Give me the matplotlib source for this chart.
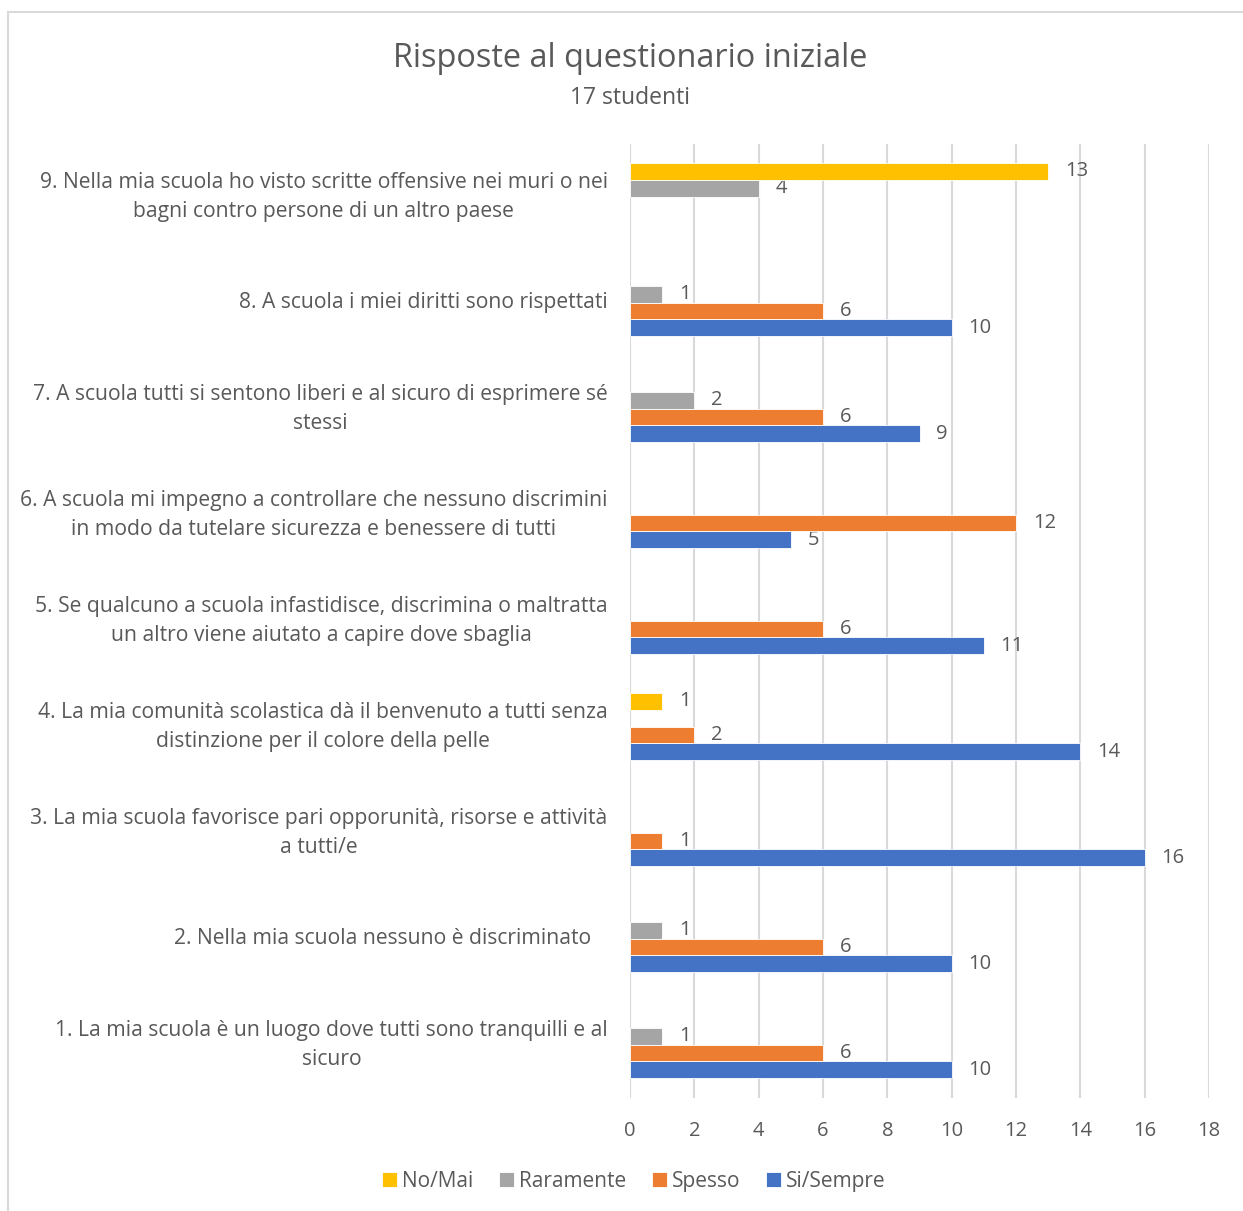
import matplotlib.pyplot as plt
import numpy as np

plt.rcParams["font.family"] = ["Open Sans", "DejaVu Sans"]

TEXT = "#595959"

questions = [
    "1. La mia scuola è un luogo dove tutti sono tranquilli e al\nsicuro",
    "2. Nella mia scuola nessuno è discriminato   ",
    "3. La mia scuola favorisce pari opporunità, risorse e attività\na tutti/e",
    "4. La mia comunità scolastica dà il benvenuto a tutti senza\ndistinzione per il colore della pelle",
    "5. Se qualcuno a scuola infastidisce, discrimina o maltratta\nun altro viene aiutato a capire dove sbaglia",
    "6. A scuola mi impegno a controllare che nessuno discrimini\nin modo da tutelare sicurezza e benessere di tutti",
    "7. A scuola tutti si sentono liberi e al sicuro di esprimere sé\nstessi",
    "8. A scuola i miei diritti sono rispettati",
    "9. Nella mia scuola ho visto scritte offensive nei muri o nei\nbagni contro persone di un altro paese",
]

si_sempre = [10, 10, 16, 14, 11, 5, 9, 10, 0]
spesso = [6, 6, 1, 2, 6, 12, 6, 6, 0]
raramente = [1, 1, 0, 0, 0, 0, 2, 1, 4]
no_mai = [0, 0, 0, 1, 0, 0, 0, 0, 13]

series = [
    ("Si/Sempre", si_sempre, "#4472C4"),
    ("Spesso", spesso, "#ED7D31"),
    ("Raramente", raramente, "#A5A5A5"),
    ("No/Mai", no_mai, "#FFC000"),
]

fig = plt.figure(figsize=(12.43, 12.11), dpi=100)
ax = fig.add_axes([0.5068, 0.0937, 0.4659, 0.7878])

# outer chart frame
fig.patches.append(plt.Rectangle((0.0064, -0.01), 1.1, 1.0001,
                                 transform=fig.transFigure, fill=False,
                                 edgecolor="#D9D9D9", linewidth=1.5))

y = np.arange(len(questions))
h = 0.16
handles = {}
for i, (name, vals, color) in enumerate(series):
    off = (i - 1.5) * h
    vals = np.array(vals, dtype=float)
    mask = vals > 0
    bars = ax.barh(y[mask] + off, vals[mask], height=h, color=color,
                   edgecolor="white", linewidth=0.6, zorder=3)
    handles[name] = bars
    for yy, v in zip(y[mask] + off, vals[mask]):
        ax.annotate(f"{int(v)}", (v, yy), xytext=(12, 0), textcoords="offset points",
                    ha="left", va="center", fontsize=14.5, color=TEXT)

ax.set_xlim(0, 18)
ax.set_ylim(-0.5, len(questions) - 0.5)
ax.set_xticks(np.arange(0, 19, 2))
ax.set_yticks(y)
ax.set_yticklabels(questions, multialignment="center", fontsize=15.2,
                   color=TEXT, linespacing=1.5, va="center")
ax.tick_params(axis="x", labelsize=14.5, colors=TEXT, length=0, pad=17)
ax.tick_params(axis="y", length=0, pad=16)
ax.grid(axis="x", color="#D9D9D9", linewidth=1.5, zorder=0)
for s in ax.spines.values():
    s.set_visible(False)

fig.text(0.507, 0.952, "Risposte al questionario iniziale", ha="center", va="center",
         fontsize=23.4, color=TEXT)
fig.text(0.507, 0.919, "17 studenti", ha="center", va="center", fontsize=16.5, color=TEXT)

order = ["No/Mai", "Raramente", "Spesso", "Si/Sempre"]
leg = fig.legend([handles[n] for n in order], order, loc="center",
                 bbox_to_anchor=(0.51, 0.0245), ncol=4, frameon=False,
                 fontsize=15, handlelength=0.7, handleheight=0.7, handletextpad=0.25,
                 columnspacing=1.25, labelcolor=TEXT)

fig.savefig("out.png", dpi=100)
